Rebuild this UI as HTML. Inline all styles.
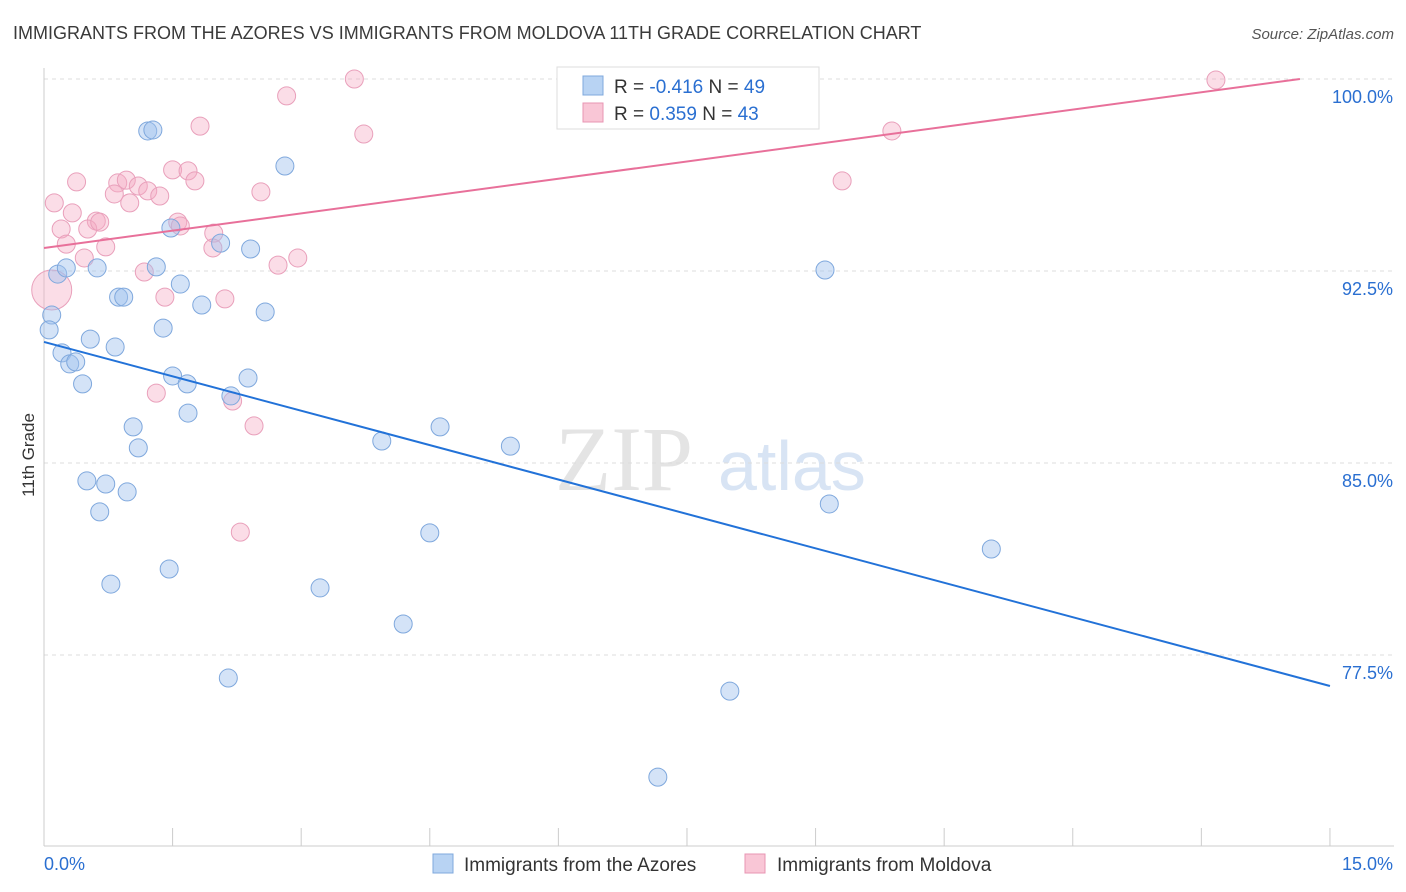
<!DOCTYPE html>
<html><head><meta charset="utf-8"><style>
body{margin:0;background:#fff;font-family:"Liberation Sans",sans-serif;}
svg{display:block}
</style></head><body>
<svg id="chart" width="1406" height="892" xmlns="http://www.w3.org/2000/svg">
<text x="13" y="39" font-size="18" fill="#3a3a3a">IMMIGRANTS FROM THE AZORES VS IMMIGRANTS FROM MOLDOVA 11TH GRADE CORRELATION CHART</text>
<text x="1394" y="39" font-size="15" fill="#555" text-anchor="end" font-style="italic">Source: ZipAtlas.com</text>
<text x="555" y="490" font-size="92" fill="#e4e4e4" font-family="Liberation Serif,serif">ZIP</text>
<text x="718" y="490" font-size="70" fill="#d8e4f4">atlas</text>
<text transform="translate(34,455) rotate(-90)" font-size="17" fill="#333" text-anchor="middle">11th Grade</text>
<g id="grid"></g><g id="axes"></g><g id="pts"></g><g id="lines"></g>
<g>
<rect x="557" y="67" width="262" height="62" fill="#fff" stroke="#ddd"/>
<rect x="583" y="76" width="20" height="19" fill="#b8d3f3" stroke="#7fa8dd"/>
<rect x="583" y="103" width="20" height="19" fill="#f9c6d6" stroke="#e895b3"/>
<text x="614" y="93" font-size="19" fill="#333">R = <tspan fill="#2a6fd1">-0.416</tspan>   N = <tspan fill="#2a6fd1">49</tspan></text>
<text x="614" y="120" font-size="19" fill="#333">R =  <tspan fill="#2a6fd1">0.359</tspan>   N = <tspan fill="#2a6fd1">43</tspan></text>
</g>
<g>
<rect x="433" y="854" width="20" height="19" fill="#b8d3f3" stroke="#7fa8dd"/>
<text x="464" y="871" font-size="19" fill="#333">Immigrants from the Azores</text>
<rect x="745" y="854" width="20" height="19" fill="#f9c6d6" stroke="#e895b3"/>
<text x="777" y="871" font-size="19" fill="#333">Immigrants from Moldova</text>
</g>
</svg>
<script>
const blueX=[1.21,1.27,2.81,1.48,2.06,2.41,0.16,0.26,0.62,1.31,9.11,1.59,0.87,0.93,1.84,2.58,0.09,0.06,1.39,0.54,0.83,0.21,0.30,0.37,0.45,1.50,1.67,2.38,2.18,1.68,1.04,3.94,4.62,5.44,1.10,0.50,0.72,0.97,0.65,9.16,4.50,11.05,1.46,0.78,3.22,4.19,2.15,8.00,7.16];
const blueY=[97.97,98.01,96.60,94.18,93.59,93.36,92.38,92.62,92.62,92.66,92.54,91.99,91.48,91.48,91.17,90.90,90.78,90.20,90.27,89.84,89.53,89.30,88.87,88.95,88.09,88.40,88.09,88.32,87.62,86.95,86.41,85.86,86.41,85.66,85.59,84.30,84.18,83.87,83.09,83.40,82.27,81.64,80.86,80.27,80.12,78.71,76.60,76.09,72.73];
const pinkX=[3.62,7.98,13.67,2.83,1.82,3.73,9.89,1.50,1.68,9.31,0.38,0.86,0.96,1.76,1.10,1.21,0.82,1.35,2.53,0.12,1.00,0.33,0.61,1.56,0.51,0.20,1.98,1.59,0.26,0.72,1.97,0.47,2.96,2.73,1.17,0.09,1.41,2.11,1.31,2.20,2.45,2.29,0.65];
const pinkY=[100.0,99.96,99.96,99.34,98.16,97.85,97.97,96.45,96.41,96.02,95.98,95.94,96.05,96.02,95.82,95.63,95.51,95.43,95.59,95.16,95.16,94.77,94.45,94.41,94.14,94.14,93.98,94.26,93.55,93.44,93.40,93.01,93.01,92.73,92.46,91.76,91.48,91.41,87.73,87.42,86.45,82.30,94.41];
const yTicks=[100,92.5,85,77.5];
const yTickLabels=["100.0%","92.5%","85.0%","77.5%"];
const blueTrend=[89.73,76.29];
const pinkTrend=[93.40,100.0];
const pinkTrendEnd=14.65;
const NS="http://www.w3.org/2000/svg";
const sx=v=>44+v*85.73, sy=v=>79+(100-v)*25.6;
function mk(tag,attrs,parent){const e=document.createElementNS(NS,tag);for(const k in attrs)e.setAttribute(k,attrs[k]);document.getElementById(parent).appendChild(e);return e;}
yTicks.forEach((t,i)=>{
 const l=mk('line',{x1:44,x2:1394,y1:sy(t),y2:sy(t),stroke:'#ddd','stroke-dasharray':'4,4'},'grid');
 
 
 const tx=mk('text',{x:1393,y:sy(t)+24,'font-size':18,fill:'#2a6fd1','text-anchor':'end'},'grid');
 tx.textContent=yTickLabels[i];
 
 
});
const ax=mk('line',{x1:44,x2:44,y1:68,y2:846,stroke:'#ccc'},'axes');


const bx=mk('line',{x1:44,x2:1394,y1:846,y2:846,stroke:'#ccc'},'axes');


for(let i=0;i<=10;i++){const t=mk('line',{x1:sx(i*1.5),x2:sx(i*1.5),y1:828,y2:846,stroke:'#ccc'},'axes');
 
 }
const xl=mk('text',{x:44,y:870,'font-size':18,fill:'#2a6fd1'},'axes');xl.textContent='0.0%';


const xr=mk('text',{x:1393,y:870,'font-size':18,fill:'#2a6fd1','text-anchor':'end'},'axes');xr.textContent='15.0%';


pinkX.forEach((x,i)=>{const c=mk('circle',{cx:sx(x),cy:sy(pinkY[i]),r:i===35?20:9,fill:'rgba(244,170,196,0.4)',stroke:'#e9a0bb','stroke-width':1},'pts');
 
 });
blueX.forEach((x,i)=>{const c=mk('circle',{cx:sx(x),cy:sy(blueY[i]),r:9,fill:'rgba(160,194,238,0.45)',stroke:'#7fa8dd','stroke-width':1},'pts');
 
 });
const bl=mk('line',{x1:sx(0),y1:sy(blueTrend[0]),x2:sx(15),y2:sy(blueTrend[1]),stroke:'#2272d8','stroke-width':2},'lines');


const pl=mk('line',{x1:sx(0),y1:sy(pinkTrend[0]),x2:sx(pinkTrendEnd),y2:sy(pinkTrend[1]),stroke:'#e8709a','stroke-width':2},'lines');


</script>
</body></html>
